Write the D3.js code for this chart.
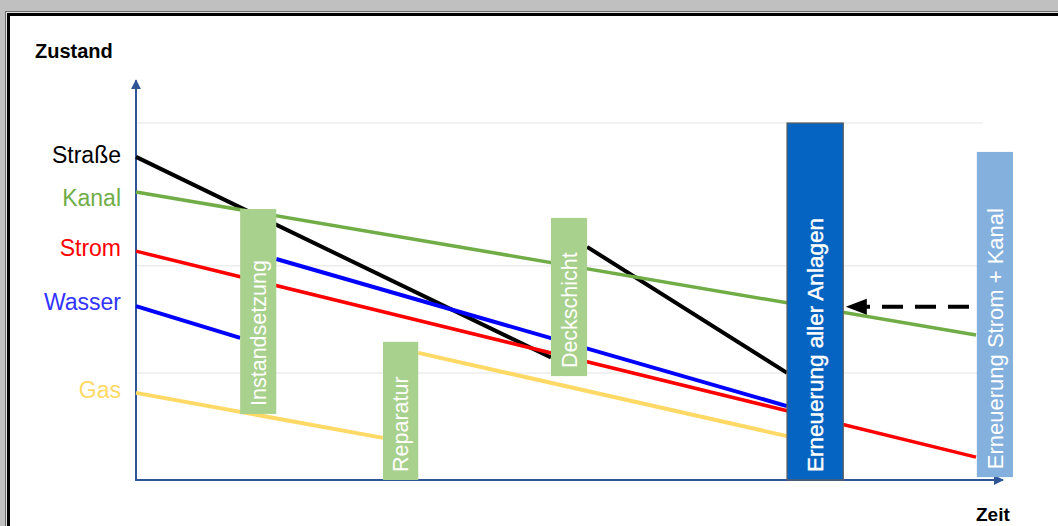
<!DOCTYPE html>
<html>
<head>
<meta charset="utf-8">
<script src="https://cdn.jsdelivr.net/npm/d3@7"></script>
<style>
  html, body { margin: 0; padding: 0; background: #c0c0c0; }
  svg { display: block; font-family: "Liberation Sans", Arial, sans-serif; }
</style>
</head>
<body>
<svg id="chart" width="1058" height="526"></svg>
<script>
// ---- data (time units 0..100, condition units 0..100) ----
const seriesNames = ["Straße", "Kanal", "Strom", "Wasser", "Gas"];
const strasse = [[0, 90.5], [49.4, 34.3], null, [53.7, 65.3], [77.5, 30.0]];
const kanal   = [[0, 80.7], [100, 40.6]];
const strom   = [[0, 64.1], [100, 6.4]];
const wasser  = [[0, 48.7], [12.4, 39.8], null, [16.7, 61.9], [77.5, 20.7]];
const gas     = [[0, 24.4], [29.4, 11.8], null, [33.6, 35.6], [77.5, 12.3]];
const gridTicks = [30, 60, 100];
const measureLabels = ["Instandsetzung", "Reparatur", "Deckschicht", "Erneuerung aller Anlagen", "Erneuerung Strom + Kanal"];
const measureX0 = [12.4, 29.4, 49.4, 77.5, 100.1];
const measureX1 = [16.7, 33.6, 53.7, 84.2, 104.4];
const measureTop = [75.9, 38.7, 73.4, 100, 91.9];
const measureBottom = [18.5, 0, 29.1, 0, 0.8];
const arrowFrom = [100, 48.5];
const arrowTo = [84.5, 48.5];
const axisTitleY = "Zustand";
const axisTitleX = "Zeit";

// ---- styles ----
const lineColors = ["#000000", "#70ad47", "#ff0000", "#0000ff", "#ffd966"];
const labelColors = ["#000000", "#70ad47", "#ff0000", "#3333ff", "#ffd966"];
const labelOffsets = [-2, 6, -3, -4, -3];
const lineWidths = [4, 3.5, 3.5, 4, 4];
const boxFills = ["#a9d18e", "#a9d18e", "#a9d18e", "#0563c1", "#84b0de"];
const boxStrokes = ["none", "none", "none", "#5f5f5f", "none"];
const boxFont = [21.5, 21.5, 21.5, 22.5, 22];

const svg = d3.select("#chart");

// frame
svg.append("rect").attr("x", 0).attr("y", 0).attr("width", 1058).attr("height", 526).attr("fill", "#c0c0c0");
svg.append("rect").attr("x", 5).attr("y", 11).attr("width", 1060).attr("height", 520).attr("fill", "#6a6a6a");
svg.append("rect").attr("x", 6).attr("y", 12).attr("width", 1060).attr("height", 520).attr("fill", "#e0e0e0");
svg.append("rect").attr("x", 7).attr("y", 13).attr("width", 1060).attr("height", 520).attr("fill", "#000");
svg.append("rect").attr("x", 10).attr("y", 16).attr("width", 1060).attr("height", 520).attr("fill", "#fff");

const x = d3.scaleLinear().domain([0, 100]).range([136, 976]);
const y = d3.scaleLinear().domain([0, 100]).range([480, 123]);

// gridlines
svg.append("g").selectAll("line").data(gridTicks).join("line")
  .attr("x1", x(0)).attr("x2", x(100.8))
  .attr("y1", d => y(d)).attr("y2", d => y(d))
  .attr("stroke", "#ececec").attr("stroke-width", 1.5);

// axes
const axisColor = "#2f5597";
const defs = svg.append("defs");
defs.append("marker").attr("id", "axArrow").attr("viewBox", "0 0 10 10")
  .attr("refX", 9).attr("refY", 5).attr("markerWidth", 5).attr("markerHeight", 5)
  .attr("orient", "auto").attr("markerUnits", "strokeWidth")
  .append("path").attr("d", "M0,0 L10,5 L0,10 z").attr("fill", axisColor);

svg.append("line").attr("x1", x(0)).attr("y1", y(0)).attr("x2", x(0)).attr("y2", y(112))
  .attr("stroke", axisColor).attr("stroke-width", 2).attr("marker-end", "url(#axArrow)");
svg.append("line").attr("x1", x(0) - 1).attr("y1", y(0)).attr("x2", x(103.2)).attr("y2", y(0))
  .attr("stroke", axisColor).attr("stroke-width", 2).attr("marker-end", "url(#axArrow)");

// series lines
const allSeries = [strasse, kanal, strom, wasser, gas];
const lineGen = d3.line().defined(d => d !== null).x(d => x(d[0])).y(d => y(d[1]));
svg.append("g").selectAll("path").data(allSeries).join("path")
  .attr("d", d => lineGen(d))
  .attr("fill", "none")
  .attr("stroke", (d, i) => lineColors[i])
  .attr("stroke-width", (d, i) => lineWidths[i]);

// series labels
svg.append("g").selectAll("text").data(seriesNames).join("text")
  .attr("x", 121)
  .attr("y", (d, i) => y(allSeries[i][0][1]) + labelOffsets[i])
  .attr("dy", "0.36em")
  .attr("text-anchor", "end")
  .attr("font-size", 23)
  .attr("fill", (d, i) => labelColors[i])
  .text(d => d);

// measure boxes
const boxes = svg.append("g").selectAll("g").data(measureLabels).join("g");
boxes.append("rect")
  .attr("x", (d, i) => x(measureX0[i]))
  .attr("y", (d, i) => y(measureTop[i]))
  .attr("width", (d, i) => x(measureX1[i]) - x(measureX0[i]))
  .attr("height", (d, i) => y(measureBottom[i]) - y(measureTop[i]))
  .attr("fill", (d, i) => boxFills[i])
  .attr("stroke", (d, i) => boxStrokes[i])
  .attr("stroke-width", 1.2);
boxes.append("text")
  .attr("transform", (d, i) => {
    const cx = (x(measureX0[i]) + x(measureX1[i])) / 2;
    const by = Math.min(y(measureBottom[i]), 480) - 8;
    return `translate(${cx},${by}) rotate(-90)`;
  })
  .attr("dy", "0.36em")
  .attr("text-anchor", "start")
  .attr("font-size", (d, i) => boxFont[i])
  .attr("fill", "#fff")
  .attr("stroke", (d, i) => i === 3 ? "#fff" : "none")
  .attr("stroke-width", 0.4)
  .text(d => d);

// dashed arrow
svg.append("line")
  .attr("x1", x(arrowFrom[0]) - 7).attr("y1", y(arrowFrom[1]))
  .attr("x2", x(arrowTo[0]) + 18).attr("y2", y(arrowTo[1]))
  .attr("stroke", "#000").attr("stroke-width", 4)
  .attr("stroke-dasharray", "21,12");
svg.append("path")
  .attr("d", () => {
    const tx = x(arrowTo[0]), ty = y(arrowTo[1]);
    return `M${tx},${ty} L${tx + 21},${ty - 8} L${tx + 21},${ty + 8} Z`;
  })
  .attr("fill", "#000");

// axis titles
svg.append("text").attr("x", 35).attr("y", 58).attr("font-size", 20).attr("font-weight", "bold")
  .attr("fill", "#000").text(axisTitleY);
svg.append("text").attr("x", 976).attr("y", 521).attr("font-size", 19).attr("font-weight", "bold")
  .attr("fill", "#000").text(axisTitleX);
</script>
</body>
</html>
